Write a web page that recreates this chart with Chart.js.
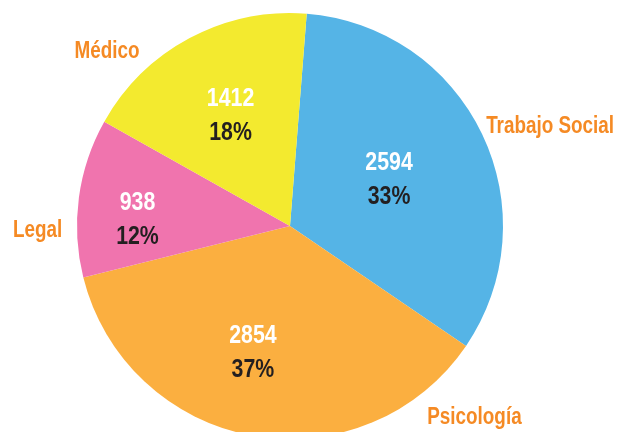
<!DOCTYPE html>
<html>
<head>
<meta charset="utf-8">
<script src="https://cdn.jsdelivr.net/npm/chart.js@4/dist/chart.umd.min.js"></script>
<style>
html,body{margin:0;padding:0;background:#fff;overflow:hidden;}
#wrap{width:620px;height:440px;}
</style>
</head>
<body>
<div id="wrap"><canvas id="c" width="620" height="440"></canvas></div>
<script>
const categories = ["Trabajo Social", "Psicología", "Legal", "Médico"];
const counts = [2594, 2854, 938, 1412];
const percentLabels = ["33%", "37%", "12%", "18%"];
const sliceColors = ["#55B4E6", "#FBAF40", "#F074AE", "#F3EA2F"];

// label placement, as offsets from the pie centre in units of its radius
const innerPlacement = [[0.465,-0.225],[-0.174,0.587],[-0.716,-0.038],[-0.279,-0.528]];
const outerPlacement = [[1.221,-0.474],[0.866,0.892],[-1.185,0.012],[-0.859,-0.826]];

function narrowText(ctx, text, x, y, size, color) {
  ctx.save();
  ctx.font = 'bold ' + size + 'px "Liberation Sans", Arial, sans-serif';
  ctx.fillStyle = color;
  ctx.textAlign = 'center';
  ctx.textBaseline = 'alphabetic';
  ctx.translate(x, y + 0.358 * size);
  ctx.scale(0.82, 1);
  ctx.fillText(text, 0, 0);
  ctx.restore();
}

const labelPlugin = {
  id: 'pieLabels',
  afterDatasetsDraw(chart) {
    const ctx = chart.ctx;
    const meta = chart.getDatasetMeta(0);
    meta.data.forEach((arc, i) => {
      const r = arc.outerRadius;
      const cx = arc.x, cy = arc.y;
      const ip = innerPlacement[i];
      const x = cx + ip[0] * r;
      const y = cy + ip[1] * r;
      narrowText(ctx, String(counts[i]), x, y - 17, 26, '#FFFFFF');
      narrowText(ctx, percentLabels[i], x, y + 17, 26, '#231F20');
      const op = outerPlacement[i];
      narrowText(ctx, categories[i], cx + op[0] * r, cy + op[1] * r, 23, '#F58A24');
    });
  }
};

new Chart(document.getElementById('c'), {
  type: 'pie',
  data: {
    labels: categories,
    datasets: [{
      data: counts,
      backgroundColor: sliceColors,
      borderWidth: 0
    }]
  },
  options: {
    responsive: false,
    animation: false,
    rotation: 4.5,
    layout: { padding: { left: 77, right: 117, top: 13, bottom: 1 } },
    plugins: {
      legend: { display: false },
      tooltip: { enabled: false }
    }
  },
  plugins: [labelPlugin]
});
</script>
</body>
</html>
